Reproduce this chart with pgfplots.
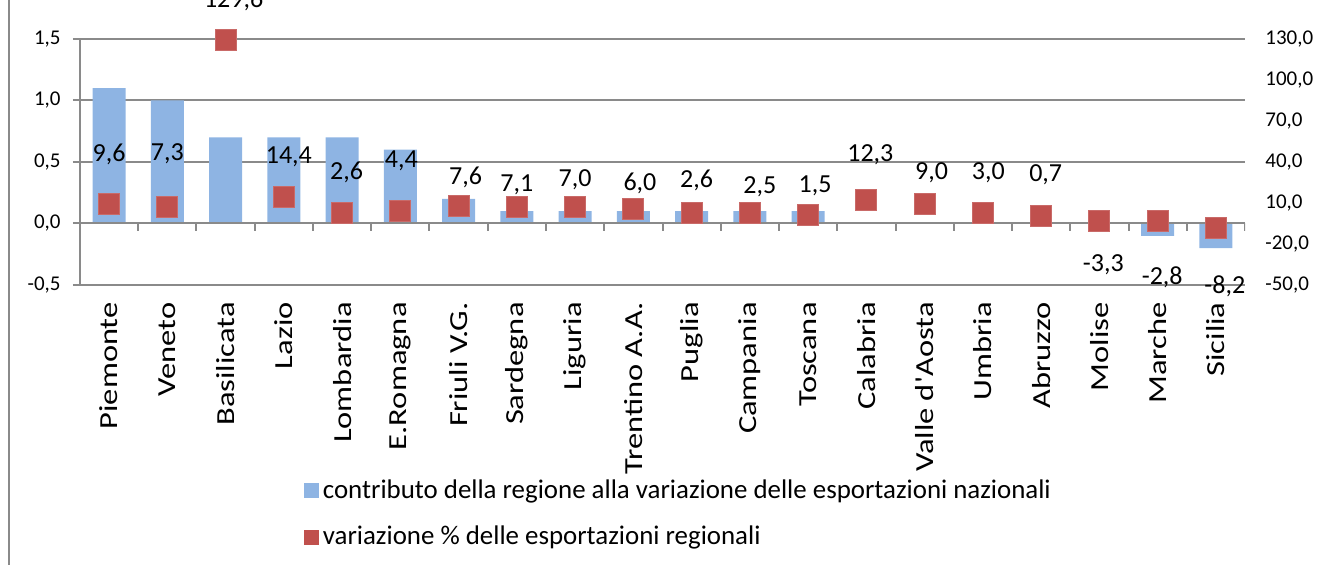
\documentclass[border=0pt]{standalone}
\usepackage{fontspec}
\setmainfont{Carlito}
\newfontfamily\catfont{Carlito}[FakeStretch=1.25]
\usepackage{pgfplots}
\pgfplotsset{compat=1.18}
\usepackage{pgfplotstable}
\definecolor{barblue}{HTML}{8EB4E3}
\definecolor{sqred}{HTML}{C0504D}
\definecolor{gridgrey}{HTML}{8A8A8A}

\pgfplotstableread{
x bar pct dx dy
0 1.1 9.6 0 24.75
1 1.0 7.3 0 26.5
2 0.7 129.6 4 19.75
3 0.7 14.4 2.5 20.3
4 0.7 2.6 2.25 20.5
5 0.6 4.4 0.5 24.7
6 0.2 7.6 3.5 14.5
7 0.1 7.1 0 11
8 0.1 7.0 0 13.5
9 0.1 6.0 3.3 12.5
10 0.1 2.6 2.5 16.4
11 0.1 2.5 5 13.3
12 0.1 1.5 3.5 14.5
13 0.0 12.3 2 22.5
14 0.0 9.0 3.5 15.6
15 0.0 3.0 2.75 19.7
16 0.0 0.7 2.3 20.4
17 0.0 -3.3 2 -22
18 -0.1 -2.8 2.3 -28.3
19 -0.2 -8.2 4.5 -29
}\data

\begin{document}
\begin{tikzpicture}[x=1pt,y=1pt]
\path[use as bounding box] (0,0) rectangle (659.5,282.5);
\clip (0,0) rectangle (659.5,282.5);
\draw[gridgrey, line width=1pt] (4.5,0) -- (4.5,282.5);
\begin{axis}[
  at={(40pt,140pt)}, anchor=south west,
  scale only axis, width=582.5pt, height=123pt,
  enlargelimits=false,
  xmin=-0.5, xmax=19.5, ymin=-0.5, ymax=1.5,
  axis y line*=left, axis x line*=bottom,
  axis line style={gridgrey, line width=1pt},
  ytick={-0.5,0,0.5,1,1.5},
  ymajorgrids, grid style={gridgrey, line width=1pt},
  tick align=outside,
  ytick style={gridgrey, line width=1pt},
  major tick length=3.5pt,
  yticklabel style={font=\fontsize{10.5}{12}\selectfont, inner sep=0pt, xshift=-6pt},
  /pgf/number format/.cd, use comma, fixed, fixed zerofill, precision=1, assume math mode=true, /pgfplots/.cd,
  xtick={0,...,19},
  xtick style={draw=none},
  xticklabels={Piemonte,Veneto,Basilicata,Lazio,Lombardia,E.Romagna,Friuli V.G.,Sardegna,Liguria,Trentino A.A.,Puglia,Campania,Toscana,Calabria,Valle d'Aosta,Umbria,Abruzzo,Molise,Marche,Sicilia},
  xticklabel style={yshift=-5pt, rotate=90, anchor=east, inner sep=0pt, font=\catfont\fontsize{13}{15}\selectfont},
]
\addplot[ybar, bar width=16.5pt, fill=barblue, draw=none] table[x=x, y=bar]{\data};
\draw[gridgrey, line width=1pt] (axis cs:-0.5,0) -- (axis cs:19.5,0);
\pgfplotsinvokeforeach{0.5,1.5,2.5,3.5,4.5,5.5,6.5,7.5,8.5,9.5,10.5,11.5,12.5,13.5,14.5,15.5,16.5,17.5,18.5,19.5}{
  \draw[gridgrey, line width=1pt] (axis cs:#1,0) -- ([yshift=-4pt]axis cs:#1,0);
}
\end{axis}
\begin{axis}[
  at={(40pt,140pt)}, anchor=south west,
  scale only axis, width=582.5pt, height=123pt,
  enlargelimits=false,
  xmin=-0.5, xmax=19.5, ymin=-50, ymax=130,
  axis y line*=right, axis x line=none,
  y axis line style={draw=none},
  ytick={-50,-20,10,40,70,100,130},
  major tick length=0pt,
  yticklabel style={font=\fontsize{10.5}{12}\selectfont, inner sep=0pt, xshift=10pt, anchor=west},
  /pgf/number format/.cd, use comma, fixed, fixed zerofill, precision=1, assume math mode=true, /pgfplots/.cd,
  legend cell align=left,
  legend style={at={(axis description cs:0.192,-0.773)}, anchor=north west, draw=none, fill=none,
    inner sep=0pt, font=\fontsize{13.45}{15}\selectfont, row sep=8.5pt,
    /tikz/every even column/.append style={column sep=4.5pt}},
]
\addlegendimage{legend image code/.code={\fill[barblue] (0pt,-3.5pt) rectangle (7pt,3.5pt);}}
\addlegendentry{contributo della regione alla variazione delle esportazioni nazionali}
\addplot[only marks, mark=square*, mark size=5.25pt,
  mark options={fill=sqred, draw=sqred!85!white, line width=0.4pt, rounded corners=0.8pt},
  visualization depends on={\thisrow{dx} \as \dx},
  visualization depends on={\thisrow{dy} \as \dy},
  nodes near coords={\pgfmathprintnumber{\pgfplotspointmeta}},
  every node near coord/.append style={anchor=center, xshift=\dx pt, yshift=\dy pt, font=\fontsize{13}{15}\selectfont, black},
  legend image code/.code={\fill[sqred] (0pt,-3.5pt) rectangle (7pt,3.5pt);}
] table[x=x, y=pct]{\data};
\addlegendentry{variazione \% delle esportazioni regionali}
\end{axis}
\end{tikzpicture}
\end{document}
